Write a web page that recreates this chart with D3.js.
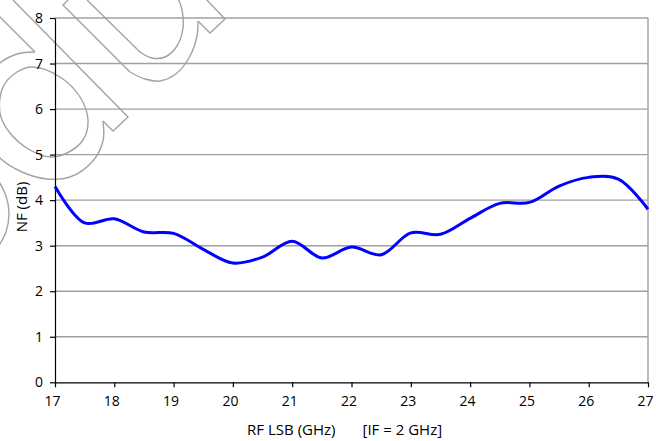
<!DOCTYPE html>
<html>
<head>
<meta charset="utf-8">
<script src="https://cdn.jsdelivr.net/npm/d3@7"></script>
<style>
  html, body { margin: 0; padding: 0; background: #fff; }
  svg { display: block; }
  text { font-family: "Open Sans", Lato, sans-serif; fill: #000; }
</style>
</head>
<body>
<svg id="chart" width="656" height="441"></svg>
<script>
// Noise figure vs. RF frequency (lower sideband), IF = 2 GHz
const freqGHz = [17, 17.5, 18, 18.5, 19, 19.5, 20, 20.5, 21, 21.5, 22,
                 22.5, 23, 23.5, 24, 24.5, 25, 25.5, 26, 26.5, 27];
const nfDb    = [4.30, 3.50, 3.59, 3.30, 3.27, 2.92, 2.62, 2.75, 3.10, 2.73, 2.97,
                 2.80, 3.28, 3.25, 3.60, 3.93, 3.95, 4.31, 4.50, 4.46, 3.80];
const xTickValues = [17, 18, 19, 20, 21, 22, 23, 24, 25, 26, 27];
const yTickValues = [0, 1, 2, 3, 4, 5, 6, 7, 8];

const W = 656, H = 441;
const margin = { top: 18, right: 8, bottom: 58.7, left: 55 };
const svg = d3.select("#chart");

const x = d3.scaleLinear().domain([17, 27]).range([margin.left, W - margin.right]);
const y = d3.scaleLinear().domain([0, 8]).range([H - margin.bottom, margin.top]);

// Faint outlined logo stamp in the upper-left corner
const stamp = svg.append("g")
  .attr("fill", "none")
  .attr("stroke", "#a3a3a3")
  .attr("stroke-width", 1.4)
  .attr("stroke-linejoin", "miter");
const straight = d3.line();
const smooth = d3.line().curve(d3.curveCatmullRom.alpha(0.5));
const loop = d3.line().curve(d3.curveCatmullRomClosed.alpha(0.5));
const stampStraight = [
  [[13, 0], [128, 117], [113, 131], [103, 121]],
  [[35, 52], [-5, 12]],
  [[72, -4], [63, 5], [130, 72]],
  [[198, 21], [210, 33], [225, 19], [205, -2]],
  [[87, 0], [140, 52]]
];
const stampCurves = [
  [[103, 121], [103, 141], [92, 162], [70, 177], [47, 179], [22, 172], [0, 158],
   [-14, 138], [-20, 110], [-14, 80], [0, 63], [17, 54], [35, 52]],
  [[130, 72], [145, 79], [160, 81], [177, 73], [190, 56], [197, 36], [198, 21]],
  [[140, 52], [152, 58], [165, 57], [177, 46], [183, 28], [182, 10], [178, -2]],
  [[-2, 180], [6, 196], [9, 213], [6, 232], [-2, 247]]
];
stampStraight.forEach(p => stamp.append("path").attr("d", straight(p)));
stampCurves.forEach(p => stamp.append("path").attr("d", smooth(p)));
stamp.append("path").attr("d", loop([[33, 67], [60, 77], [80, 97], [88, 120], [83, 140],
  [67, 153], [50, 157], [30, 150], [10, 133], [0, 113], [3, 87], [17, 72]]));

// Horizontal gridlines and right frame
const grid = svg.append("g").attr("stroke", "#a0a0a0").attr("stroke-width", 1.4);
grid.selectAll("line.h")
  .data(yTickValues.filter(v => v > 0))
  .join("line")
  .attr("class", "h")
  .attr("x1", x(17)).attr("x2", x(27))
  .attr("y1", d => y(d)).attr("y2", d => y(d));
grid.append("line")
  .attr("x1", x(27)).attr("x2", x(27))
  .attr("y1", y(8)).attr("y2", y(0));

// Axes
const xAxis = svg.append("g")
  .attr("transform", `translate(0,${y(0)})`)
  .call(d3.axisBottom(x).tickValues(xTickValues).tickSize(5).tickPadding(9).tickSizeOuter(0));
const yAxis = svg.append("g")
  .attr("transform", `translate(${x(17)},0)`)
  .call(d3.axisLeft(y).tickValues(yTickValues).tickSize(5).tickPadding(7).tickSizeOuter(0));
[xAxis, yAxis].forEach(a => {
  a.select(".domain").attr("stroke", "#000").attr("stroke-width", 1.2);
  a.selectAll(".tick line").attr("stroke", "#000").attr("stroke-width", 1.2);
  a.selectAll(".tick text").attr("font-family", "'Open Sans', Lato, sans-serif")
    .attr("font-size", 14).attr("fill", "#000");
});
xAxis.selectAll(".tick text").attr("dx", -3);

// Data line
svg.append("path")
  .datum(freqGHz.map((f, i) => [f, nfDb[i]]))
  .attr("fill", "none")
  .attr("stroke", "#0000ff")
  .attr("stroke-width", 3)
  .attr("stroke-linejoin", "round")
  .attr("d", d3.line().x(d => x(d[0])).y(d => y(d[1])).curve(d3.curveCatmullRom.alpha(0.5)));

// Axis titles
const cx = (x(17) + x(27)) / 2;
svg.append("text").attr("x", cx - 16).attr("y", 435)
  .attr("text-anchor", "end").attr("font-size", 15).text("RF LSB (GHz)");
svg.append("text").attr("x", cx + 11).attr("y", 435)
  .attr("text-anchor", "start").attr("font-size", 15).text("[IF = 2 GHz]");
svg.append("text")
  .attr("transform", `translate(27,${y(3.85)}) rotate(-90)`)
  .attr("text-anchor", "middle").attr("font-size", 15).text("NF (dB)");
</script>
</body>
</html>
